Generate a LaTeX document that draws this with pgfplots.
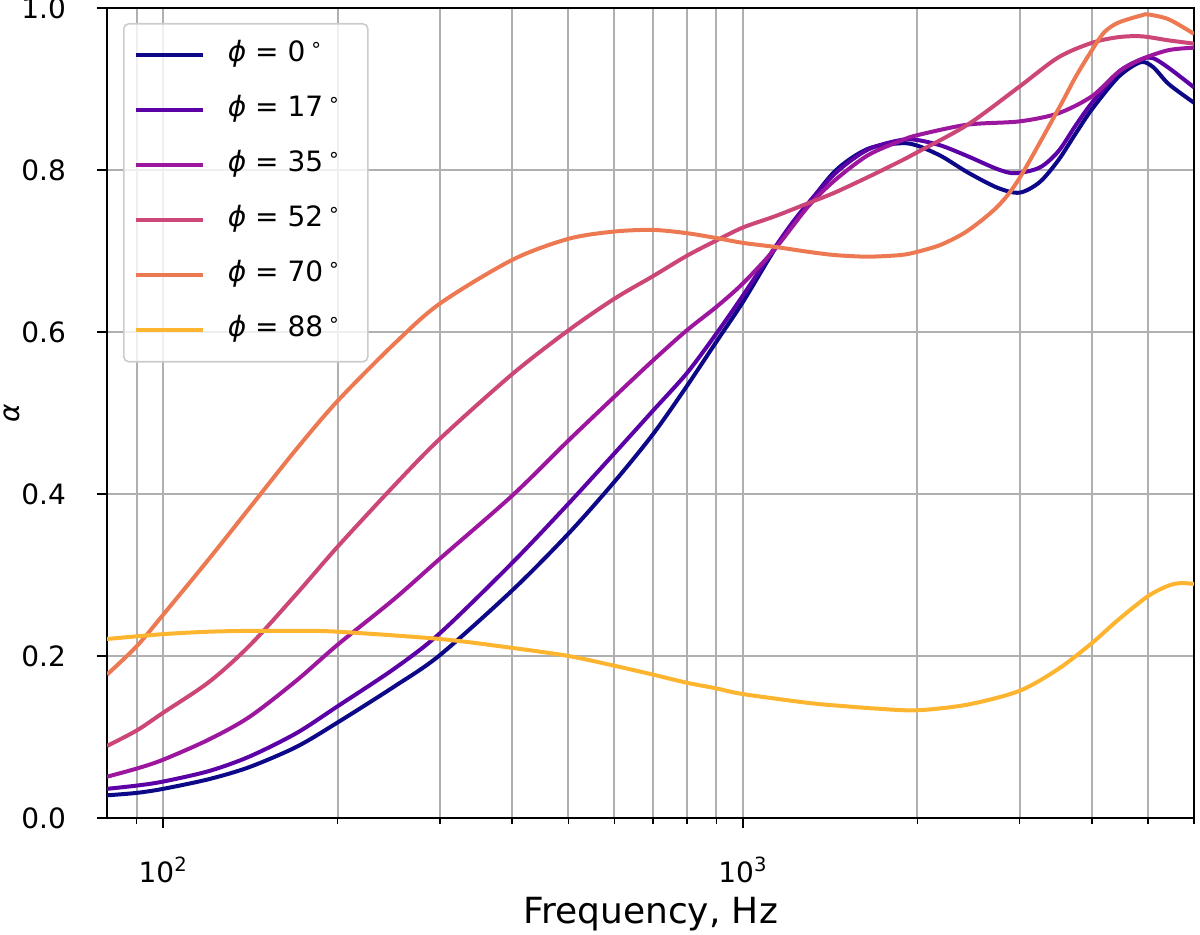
\documentclass[border=0pt]{standalone}
\usepackage{fontspec}
\setmainfont{DejaVu Sans}
\usepackage{pgfplots}
\pgfplotsset{compat=1.18}
\usetikzlibrary{calc}
\definecolor{c0}{HTML}{0D0887}
\definecolor{c1}{HTML}{5C01A6}
\definecolor{c2}{HTML}{9C179E}
\definecolor{c3}{HTML}{CC4778}
\definecolor{c4}{HTML}{ED7953}
\definecolor{c5}{HTML}{FDB42F}
\definecolor{gridc}{HTML}{B0B0B0}
\newcommand{\phil}[1]{\makebox[65pt][l]{{\itshape ϕ} = #1\,\textsuperscript{∘}}}
\begin{document}
\begin{tikzpicture}
\begin{axis}[
  scale only axis, width=543.5pt, height=405pt,
  xmode=log, xmin=80, xmax=6000, ymin=0, ymax=1,
  xtick={100,1000}, xticklabels={10\textsuperscript{2},10\textsuperscript{3}},
  minor xtick={90,200,300,400,500,600,700,800,900,2000,3000,4000,5000,6000},
  ytick={0,0.2,0.4,0.6,0.8,1.0}, yticklabels={0.0,0.2,0.4,0.6,0.8,1.0},
  xtick pos=bottom, ytick pos=left,
  grid=both,
  major grid style={gridc, line width=1pt},
  minor grid style={gridc, line width=1pt},
  tick align=outside, major tick length=5pt, minor tick length=3pt,
  tick style={black, line width=0.8pt},
  axis line style={line width=1pt},
  ticklabel style={font=\fontsize{14}{16}\selectfont},
  xticklabel style={anchor=base, yshift=-27pt},
  yticklabel style={anchor=east, xshift=-12pt},
  every axis x label/.style={at={(rel axis cs:0.5,0)}, anchor=base, yshift=-52.5pt, font=\fontsize{18}{20}\selectfont},
  every axis y label/.style={at={(rel axis cs:0,0.5)}, anchor=center, rotate=90, yshift=47.5pt, font=\fontsize{14}{16}\selectfont},
  xlabel={Frequency, Hz}, ylabel={{\itshape α}},
  legend cell align=left,
  legend image code/.code={\draw[#1, line width=2pt] (0pt,0pt) -- (33.5pt,0pt); \path[draw=none] (0pt,0pt) -- (46pt,0pt);},
  legend style={at={(rel axis cs:0,1)}, anchor=north west, xshift=8pt, yshift=-7.5pt,
    draw=black!20, line width=0.8pt, rounded corners=2.5pt, fill=white, fill opacity=0.8, text opacity=1,
    inner xsep=5pt, inner ysep=9pt, row sep=14pt, font=\fontsize{14}{16}\selectfont,
    nodes={inner sep=0pt, text height=10pt, text depth=3.5pt}},
  clip=true,
]
\addplot[c0, line width=2pt, smooth] coordinates {(80,0.028)(90,0.031)(100,0.036)(120,0.048)(141,0.063)(170,0.088)(200,0.118)(250,0.162)(300,0.201)(400,0.281)(500,0.351)(600,0.415)(700,0.474)(800,0.533)(900,0.588)(1000,0.637)(1137,0.703)(1248,0.742)(1439,0.798)(1641,0.826)(1871,0.833)(2000,0.830)(2200,0.817)(2442,0.797)(2750,0.778)(3000,0.772)(3250,0.785)(3500,0.812)(3750,0.845)(4000,0.875)(4445,0.915)(4850,0.933)(5100,0.927)(5427,0.906)(6000,0.883)};
\addlegendentry{\phil{0}}
\addplot[c1, line width=2pt, smooth] coordinates {(80,0.036)(90,0.040)(100,0.045)(120,0.058)(141,0.076)(170,0.105)(200,0.138)(250,0.184)(300,0.228)(400,0.315)(500,0.388)(600,0.450)(700,0.503)(800,0.549)(900,0.598)(1000,0.645)(1137,0.705)(1248,0.745)(1439,0.795)(1641,0.825)(1871,0.837)(2000,0.837)(2200,0.830)(2442,0.817)(2750,0.801)(2950,0.796)(3250,0.803)(3500,0.823)(3750,0.855)(4000,0.883)(4445,0.921)(4879,0.937)(5100,0.938)(5427,0.926)(6000,0.902)};
\addlegendentry{\phil{17}}
\addplot[c2, line width=2pt, smooth] coordinates {(80,0.051)(90,0.061)(100,0.072)(120,0.097)(141,0.125)(170,0.170)(200,0.214)(250,0.270)(300,0.320)(400,0.398)(500,0.466)(600,0.520)(700,0.565)(800,0.602)(900,0.631)(1000,0.660)(1137,0.703)(1296,0.755)(1439,0.787)(1641,0.818)(1871,0.836)(2000,0.843)(2442,0.856)(3000,0.860)(3500,0.870)(4000,0.891)(4445,0.921)(4879,0.937)(5427,0.948)(6000,0.951)};
\addlegendentry{\phil{35}}
\addplot[c3, line width=2pt, smooth] coordinates {(80,0.089)(90,0.108)(100,0.130)(120,0.168)(141,0.213)(170,0.277)(200,0.335)(250,0.410)(300,0.468)(400,0.548)(500,0.602)(600,0.641)(700,0.669)(800,0.694)(900,0.713)(1000,0.729)(1137,0.743)(1296,0.759)(1439,0.772)(1641,0.791)(1871,0.811)(2000,0.822)(2442,0.856)(3000,0.903)(3500,0.939)(4000,0.957)(4445,0.964)(4879,0.965)(5427,0.960)(6000,0.956)};
\addlegendentry{\phil{52}}
\addplot[c4, line width=2pt, smooth] coordinates {(80,0.177)(90,0.212)(100,0.251)(120,0.320)(141,0.383)(170,0.456)(200,0.515)(250,0.585)(300,0.635)(400,0.689)(500,0.715)(600,0.724)(700,0.726)(800,0.722)(900,0.716)(1000,0.710)(1137,0.705)(1296,0.699)(1439,0.695)(1641,0.693)(1871,0.695)(2000,0.699)(2200,0.708)(2442,0.725)(2750,0.755)(3000,0.790)(3500,0.875)(3750,0.915)(4000,0.948)(4200,0.970)(4445,0.982)(4879,0.991)(5000,0.992)(5427,0.986)(6000,0.968)};
\addlegendentry{\phil{70}}
\addplot[c5, line width=2pt, smooth] coordinates {(80,0.221)(100,0.227)(120,0.230)(141,0.231)(170,0.231)(200,0.230)(300,0.221)(400,0.210)(500,0.200)(600,0.188)(700,0.177)(800,0.167)(900,0.160)(1000,0.153)(1300,0.142)(1500,0.138)(1705,0.135)(2000,0.133)(2442,0.140)(3000,0.157)(3500,0.184)(4000,0.216)(4445,0.245)(5000,0.274)(5427,0.287)(5700,0.290)(6000,0.289)};
\addlegendentry{\phil{88}}
\coordinate (ll) at (rel axis cs:0,0);
\coordinate (ur) at (rel axis cs:1,1);
\end{axis}
\pgfresetboundingbox
\path[use as bounding box] ($(ll)+(-53.5pt,-58pt)$) rectangle ($(ur)+(3pt,4pt)$);
\end{tikzpicture}
\end{document}
